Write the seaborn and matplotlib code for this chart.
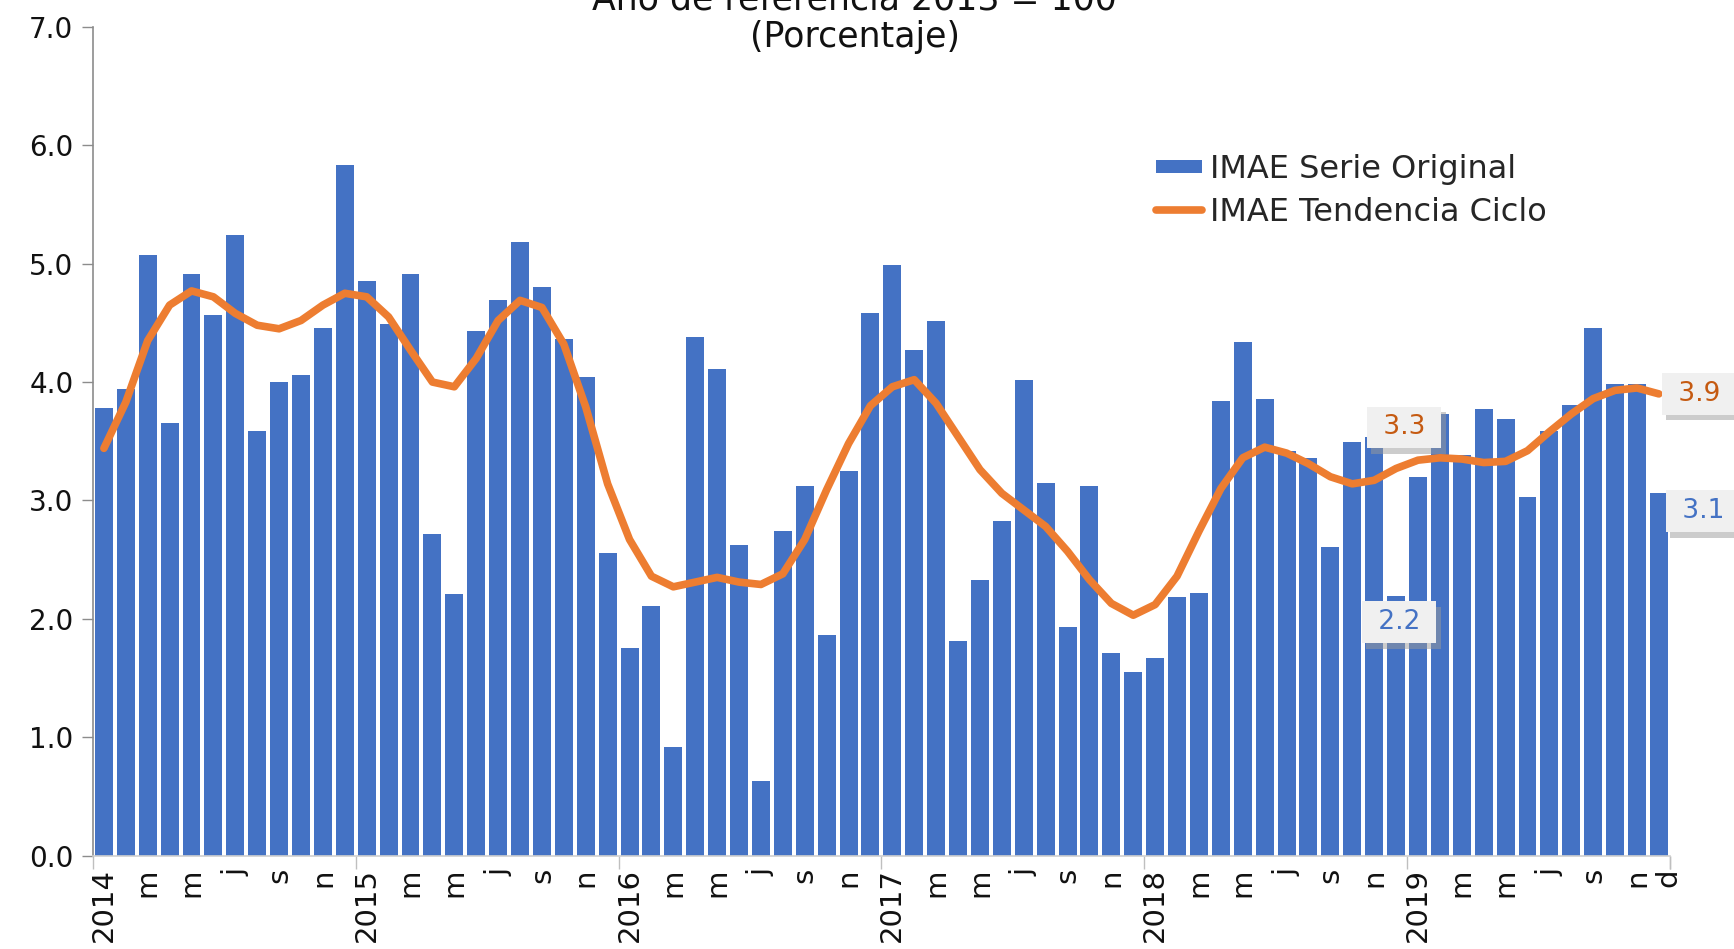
import numpy as np
import pandas as pd
import matplotlib
matplotlib.use("Agg")
import matplotlib.pyplot as plt
import matplotlib.transforms as mtransforms
import matplotlib.patheffects as pe
import seaborn as sns
from matplotlib.patches import Patch, Rectangle
from matplotlib.lines import Line2D
from matplotlib.legend_handler import HandlerPatch

# ---------------- data ----------------
years = [2014, 2015, 2016, 2017, 2018, 2019]
month_letters = ["e", "f", "m", "a", "m", "j", "j", "a", "s", "o", "n", "d"]

serie_original = [
    3.78, 3.94, 5.07, 3.65, 4.91, 4.57, 5.24, 3.59, 4.00, 4.06, 4.46, 5.83,
    4.85, 4.49, 4.91, 2.72, 2.21, 4.43, 4.69, 5.18, 4.80, 4.36, 4.04, 2.56,
    1.75, 2.11, 0.92, 4.38, 4.11, 2.62, 0.63, 2.74, 3.12, 1.86, 3.25, 4.58,
    4.99, 4.27, 4.52, 1.81, 2.33, 2.83, 4.02, 3.15, 1.93, 3.12, 1.71, 1.55,
    1.67, 2.18, 2.22, 3.84, 4.34, 3.86, 3.42, 3.36, 2.61, 3.49, 3.54, 2.19,
    3.20, 3.73, 3.38, 3.77, 3.69, 3.03, 3.59, 3.81, 4.46, 3.98, 3.98, 3.06,
]
tendencia_ciclo = [
    3.44, 3.83, 4.35, 4.65, 4.77, 4.72, 4.58, 4.48, 4.45, 4.52, 4.65, 4.75,
    4.72, 4.55, 4.27, 4.00, 3.96, 4.20, 4.52, 4.69, 4.63, 4.32, 3.79, 3.14,
    2.67, 2.36, 2.27, 2.31, 2.35, 2.31, 2.29, 2.38, 2.67, 3.09, 3.48, 3.80,
    3.96, 4.02, 3.82, 3.54, 3.26, 3.06, 2.92, 2.78, 2.57, 2.33, 2.13, 2.03,
    2.12, 2.36, 2.74, 3.10, 3.36, 3.45, 3.40, 3.31, 3.20, 3.14, 3.17, 3.27,
    3.34, 3.36, 3.35, 3.32, 3.33, 3.42, 3.58, 3.73, 3.86, 3.93, 3.95, 3.90,
]

title_line1 = "Año de referencia 2013 = 100"
title_line2 = "(Porcentaje)"
label_serie = "IMAE Serie Original"
label_tend = "IMAE Tendencia Ciclo"
y_ticks = [0, 1, 2, 3, 4, 5, 6, 7]

# labelled points (indices)
label_points_trend = [59, 71]
label_points_bar = [59, 71]

# ---------------- build table ----------------
periodo = [f"{y}-{m + 1:02d}" for y in years for m in range(12)]
n = len(periodo)
tick_text = []
for i in range(n):
    y, m = years[i // 12], i % 12
    if m == 0:
        tick_text.append(str(y))
    elif m % 2 == 0 or i == n - 1:
        tick_text.append(month_letters[m])
    else:
        tick_text.append("")

df = pd.DataFrame({
    "periodo": periodo,
    "pos": np.arange(n),
    "original": serie_original,
    "tendencia": tendencia_ciclo,
})

BLUE = "#4472C4"
ORANGE = "#ED7D31"

sns.set_style("white")
plt.rcParams["font.family"] = ["DejaVu Sans"]

fig = plt.figure(figsize=(17.34, 9.49), dpi=100)
ax = fig.add_axes([0.0536, 0.0985, 0.963 - 0.0536, 0.9716 - 0.0985])

sns.barplot(data=df, x="periodo", y="original", order=periodo, color=BLUE,
            saturation=1, width=0.82, linewidth=0, ax=ax, zorder=2)
sns.lineplot(x=df["pos"], y=df["tendencia"], color=ORANGE, linewidth=5.5,
             ax=ax, zorder=3, legend=False, sort=False,
             solid_capstyle="round", solid_joinstyle="round")

ax.set_xlim(-0.5, n - 0.5)
ax.set_ylim(0, 7)
ax.set_xlabel("")
ax.set_ylabel("")

# y axis
ax.set_yticks(y_ticks)
ax.set_yticklabels([f"{v:.1f}" for v in y_ticks], fontsize=20, color="#111111")
ax.tick_params(axis="y", length=8, width=1, color="#8C8C8C", direction="out",
               pad=6, left=True)

# x axis: labels at category centres, tick marks at year boundaries
lab_pos = [i for i, t in enumerate(tick_text) if t]
ax.set_xticks(lab_pos)
ax.set_xticklabels([tick_text[i] for i in lab_pos], rotation=90,
                   fontsize=21, color="#111111")
ax.tick_params(axis="x", which="major", length=0, pad=9)
ax.set_xticks(list(np.arange(-0.5, n, 12)) + [n - 0.5], minor=True)
ax.tick_params(axis="x", which="minor", length=9, width=1, color="#BFBFBF",
               direction="out", bottom=True)
# the final "d" sits at the right end of the axis, as in the source
last_lab = ax.get_xticklabels()[-1]
last_lab.set_transform(last_lab.get_transform() +
                       mtransforms.ScaledTranslation(9 / 100, 0, fig.dpi_scale_trans))

for s in ["top", "right"]:
    ax.spines[s].set_visible(False)
ax.spines["left"].set_color("#8C8C8C")
ax.spines["left"].set_linewidth(1.2)
ax.spines["bottom"].set_color("#D0D0D0")
ax.spines["bottom"].set_linewidth(1.2)
ax.grid(False)

# ---------------- data labels ----------------
shadow = [pe.withSimplePatchShadow(offset=(3, -4), shadow_rgbFace="#9A9A9A", alpha=0.5)]


def boxed_label(xi, yv, text, color, dx, dy):
    t = ax.annotate(" " + text + " ", xy=(xi, yv), xytext=(dx, dy),
                    textcoords="offset pixels", ha="center", va="center",
                    fontsize=19, color=color, zorder=6,
                    bbox=dict(boxstyle="square,pad=0.3", fc="#F0F0F0", ec="none"),
                    annotation_clip=False)
    t.get_bbox_patch().set_path_effects(shadow)


i_t1, i_t2 = label_points_trend
i_b1, i_b2 = label_points_bar
boxed_label(i_t1, tendencia_ciclo[i_t1], f"{tendencia_ciclo[i_t1]:.1f}", "#C55A11", 8, 41)
boxed_label(i_b1, serie_original[i_b1], f"{serie_original[i_b1]:.1f}", "#4472C4", 3, -26)
boxed_label(i_t2, tendencia_ciclo[i_t2], f"{tendencia_ciclo[i_t2]:.1f}", "#C55A11", 40, 0)
boxed_label(i_b2, serie_original[i_b2], f"{serie_original[i_b2]:.1f}", "#4472C4", 44, -18)

# ---------------- legend ----------------
def thin_patch(legend, orig_handle, xdescent, ydescent, width, height, fontsize):
    return Rectangle((-xdescent, -ydescent + height * 0.2), width, height * 0.6)


handles = [Patch(facecolor=BLUE, edgecolor="none", label=label_serie),
           Line2D([0], [0], color=ORANGE, linewidth=5.5, label=label_tend)]
fig.legend(handles=handles, loc="upper left", bbox_to_anchor=(0.6667, 0.838),
           frameon=False, fontsize=23, handlelength=1.45, handletextpad=0.25,
           borderpad=0, borderaxespad=0, labelspacing=0.38,
           handler_map={Patch: HandlerPatch(patch_func=thin_patch)})

# ---------------- title (top line cut off as in the source) ----------------
fig.text(0.493, 1 - 9 / 949, title_line1, ha="center", va="baseline",
         fontsize=25, color="#111111")
fig.text(0.493, 1 - 47 / 949, title_line2, ha="center", va="baseline",
         fontsize=25, color="#111111")

fig.savefig("out.png", dpi=100)
